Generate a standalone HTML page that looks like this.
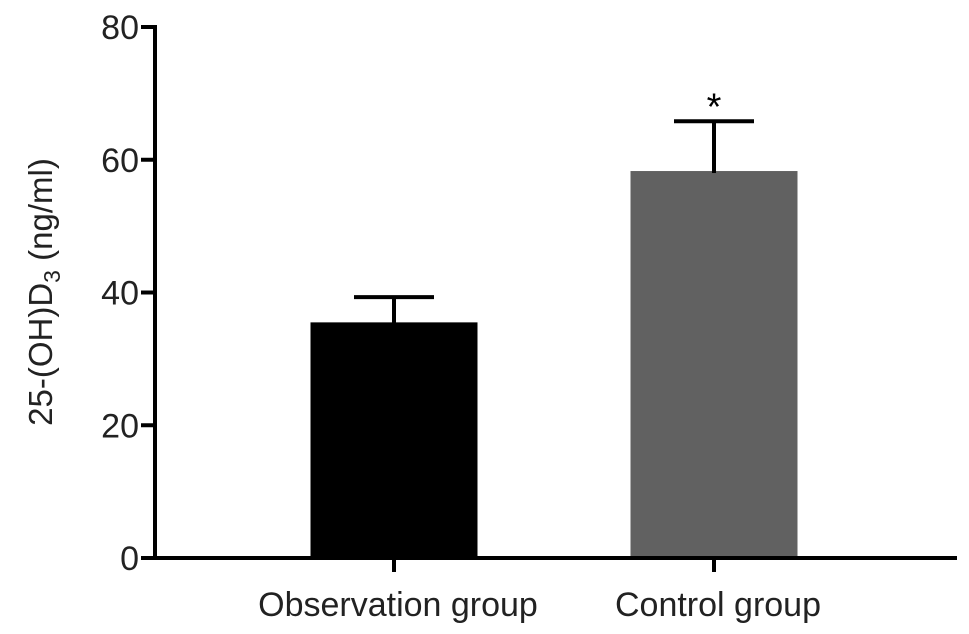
<!DOCTYPE html>
<html><head><meta charset="utf-8"><style>
html,body{margin:0;padding:0;background:#fff;}
svg{display:block;font-family:"Liberation Sans",Arial,sans-serif;}
</style></head><body>
<svg id="chart" width="969" height="634" viewBox="0 0 969 634"></svg>
<script>
const categories = ["Observation group", "Control group"];
const means = [35.5, 58.3];
const errors = [3.8, 7.5];
const barColors = ["#000000", "#616161"];
const significance = ["", "*"];
const yTicks = [0, 20, 40, 60, 80];

const svg = document.getElementById('chart');
const NS = 'http://www.w3.org/2000/svg';
const x0 = 155, x1 = 957, y0 = 558, yTop = 27, yMax = 80;
const yScale = v => y0 - (v / yMax) * (y0 - yTop);
const centers = [394, 714];
const barW = 167;
const xScale = i => centers[i];

function mk(tag, attrs, parent) {
  const e = document.createElementNS(NS, tag);
  for (const k in attrs) e.setAttribute(k, attrs[k]);
  (parent || svg).appendChild(e);
  return e;
}

categories.forEach((c, i) => {
  const cx = xScale(i);
  const top = yScale(means[i]);
  const r = mk('rect', {x: cx - barW/2, y: top, width: barW, height: y0 - top, fill: barColors[i]});
  
  
  const et = yScale(means[i] + errors[i]);
  const g = mk('g', {stroke: '#000', 'stroke-width': 4});
  
  
  mk('line', {x1: cx, x2: cx, y1: top + 2, y2: et}, g);
  mk('line', {x1: cx - 40, x2: cx + 40, y1: et, y2: et}, g);
  if (significance[i]) {
    const s = mk('text', {x: cx, y: et - 2, 'text-anchor': 'middle', 'font-size': 38, fill: '#000'});
    s.textContent = significance[i];
    
    
  }
  const tk = mk('line', {x1: cx, x2: cx, y1: y0, y2: y0 + 14, stroke: '#000', 'stroke-width': 4});
  
  
  const lb = mk('text', {x: cx + 4, y: 616, 'text-anchor': 'middle', 'font-size': 34, fill: '#222'});
  lb.textContent = c;
  
  
});

yTicks.forEach(t => {
  const y = yScale(t);
  const tk = mk('line', {x1: x0 - 14, x2: x0, y1: y, y2: y, stroke: '#000', 'stroke-width': 4});
  
  
  const lb = mk('text', {x: x0 - 16, y: y + 12, 'text-anchor': 'end', 'font-size': 34, fill: '#222'});
  lb.textContent = t;
  
  
});

const ya = mk('line', {x1: x0, x2: x0, y1: yTop - 2, y2: y0 + 2, stroke: '#000', 'stroke-width': 4});


const xa = mk('line', {x1: x0 - 2, x2: x1, y1: y0, y2: y0, stroke: '#000', 'stroke-width': 4});



const yt = mk('text', {transform: 'translate(52,292) rotate(-90)', 'text-anchor': 'middle', 'font-size': 33, fill: '#222'});


yt.innerHTML = '25-(OH)D<tspan font-size="23" dy="8">3</tspan><tspan dy="-8"> (ng/ml)</tspan>';
</script>
</body></html>
